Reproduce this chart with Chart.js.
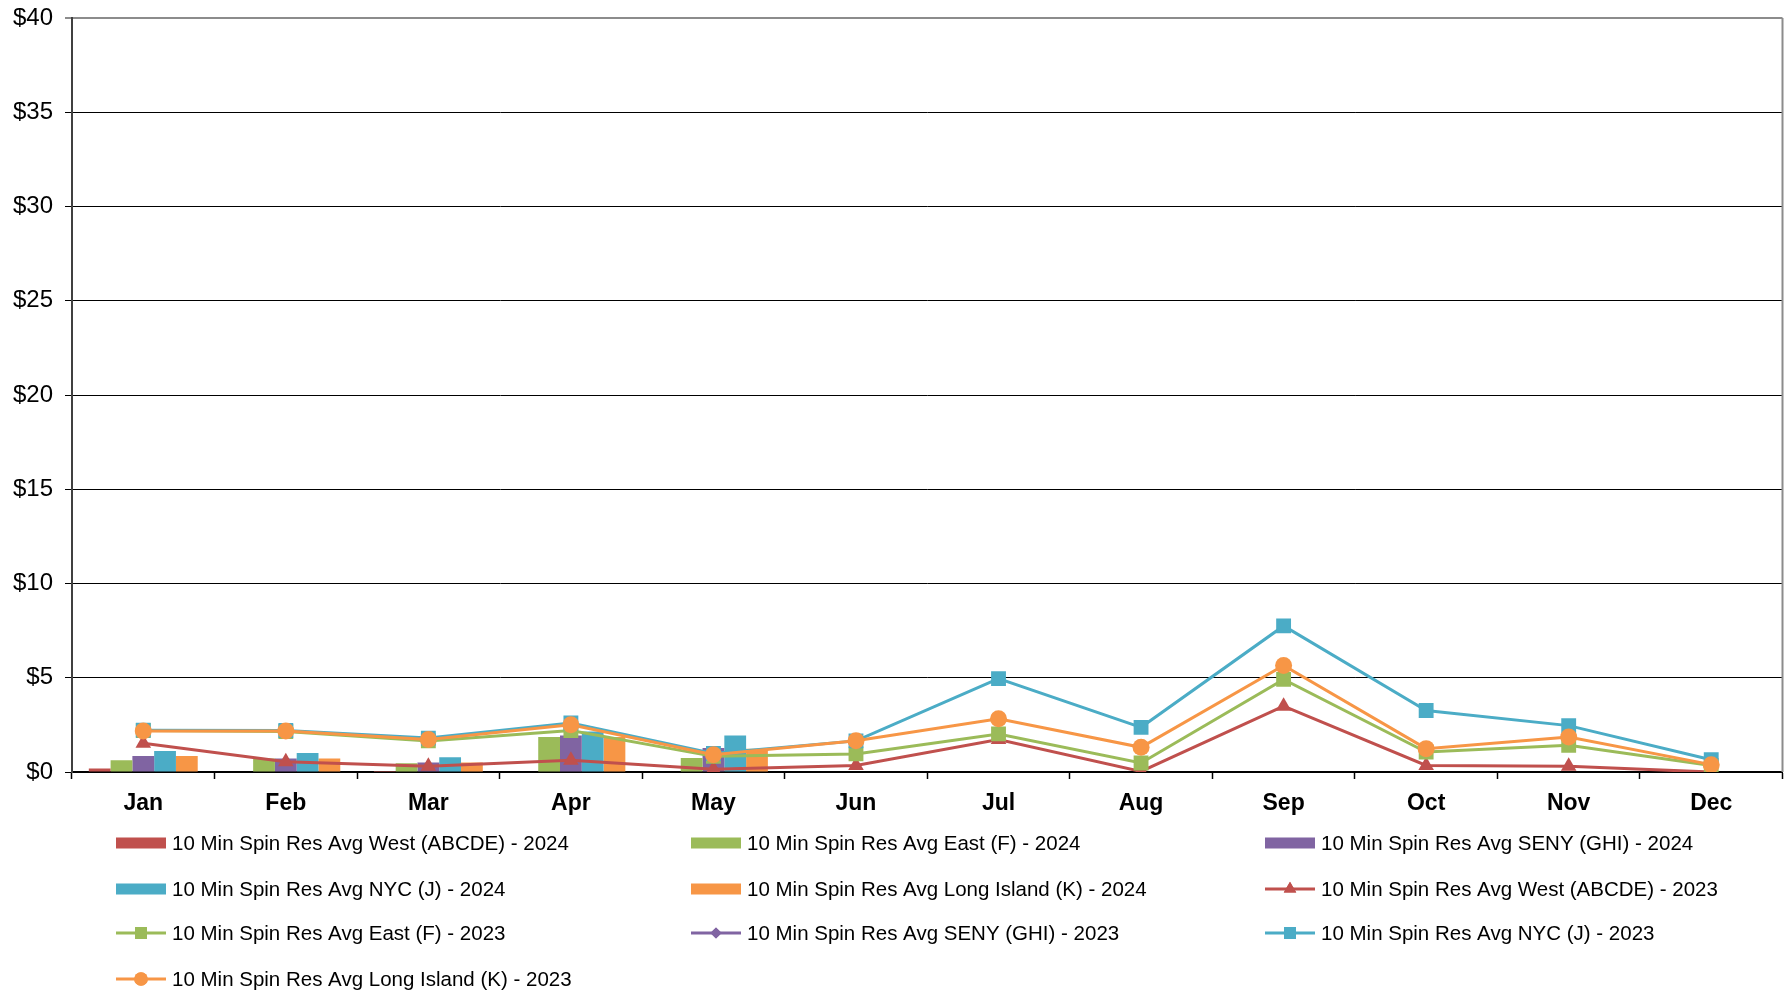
<!DOCTYPE html>
<html lang="en">
<head>
    <meta charset="UTF-8">
    <title>10 Min Spin Res Avg</title>
    <script src="https://cdn.jsdelivr.net/npm/chart.js@4.4.1/dist/chart.umd.min.js"></script>
    <style>
        html, body { margin: 0; background: #fff; overflow: hidden; }
        #wrap { position: relative; width: 1793px; height: 992px; }
    </style>
</head>
<body>
<div id="wrap"><canvas id="myChart"></canvas></div>

<script>
    // months on the x axis
    var mesi = ['Jan', 'Feb', 'Mar', 'Apr', 'May', 'Jun', 'Jul', 'Aug', 'Sep', 'Oct', 'Nov', 'Dec'];

    // 2024 bars (only Jan - May)
    var west2024 = [0.18, 0.02, 0.05, 0.02, 0.02, null, null, null, null, null, null, null];
    var east2024 = [0.62, 0.71, 0.46, 1.86, 0.74, null, null, null, null, null, null, null];
    var seny2024 = [0.85, 0.71, 0.51, 1.94, 1.27, null, null, null, null, null, null, null];
    var nyc2024 = [1.11, 1.01, 0.78, 2.15, 1.93, null, null, null, null, null, null, null];
    var li2024 = [0.85, 0.71, 0.51, 1.86, 1.24, null, null, null, null, null, null, null];

    // 2023 lines
    var west2023 = [1.52, 0.55, 0.30, 0.62, 0.15, 0.35, 1.72, 0.03, 3.49, 0.35, 0.30, 0.00];
    var east2023 = [2.20, 2.15, 1.65, 2.20, 0.83, 0.96, 2.02, 0.48, 4.91, 1.06, 1.42, 0.35];
    var seny2023 = [null, null, null, null, null, null, null, null, null, null, null, null];
    var nyc2023 = [2.22, 2.20, 1.80, 2.60, 0.98, 1.65, 4.95, 2.37, 7.75, 3.26, 2.46, 0.65];
    var li2023 = [2.17, 2.17, 1.73, 2.51, 0.92, 1.66, 2.82, 1.31, 5.65, 1.24, 1.86, 0.39];

    var yTicks = [0, 5, 10, 15, 20, 25, 30, 35, 40];

    var rosso = '#C0504D', verde = '#9BBB59', viola = '#8064A2', azzurro = '#4BACC6', arancio = '#F79646';
    var font = '"Liberation Sans", Arial, sans-serif';
    var raggi = { rect: 10.5, triangle: 9, circle: 8.5, rectRot: 7 };

    function barra(label, data, colore) {
        return {
            type: 'bar', label: label, data: data, backgroundColor: colore,
            borderWidth: 0, order: 20, barPercentage: 1.0, categoryPercentage: 0.764
        };
    }

    function linea(label, data, colore, stile, ordine) {
        return {
            type: 'line', label: label, data: data, borderColor: colore, backgroundColor: colore,
            borderWidth: 3, tension: 0, pointStyle: stile, pointRadius: raggi[stile],
            pointBorderWidth: 0, pointBackgroundColor: colore, order: ordine, spanGaps: true
        };
    }

    // legend in a 3 column grid, drawn under the axis
    var gridLegend = {
        id: 'gridLegend',
        beforeDatasetsDraw: function (chart) {
            var a = chart.chartArea, ctx = chart.ctx;
            ctx.save();
            ctx.strokeStyle = '#8c8c8c';
            ctx.lineWidth = 2;
            ctx.beginPath();
            ctx.moveTo(a.right, a.top);
            ctx.lineTo(a.right, a.bottom);
            ctx.stroke();
            ctx.restore();
        },
        afterDraw: function (chart) {
            var ctx = chart.ctx;
            var cols = [116, 691, 1265];
            var base = chart.chartArea.bottom;
            var rows = [base + 71, base + 117, base + 161, base + 207];
            ctx.save();
            chart.data.datasets.forEach(function (ds, i) {
                var x = cols[i % 3], y = rows[Math.floor(i / 3)];
                if (ds.type === 'bar') {
                    ctx.fillStyle = ds.backgroundColor;
                    ctx.fillRect(x, y - 5.5, 50, 11);
                } else {
                    ctx.strokeStyle = ds.borderColor;
                    ctx.lineWidth = 3;
                    ctx.beginPath();
                    ctx.moveTo(x, y);
                    ctx.lineTo(x + 50, y);
                    ctx.stroke();
                    ctx.fillStyle = ds.borderColor;
                    Chart.helpers.drawPoint(ctx, {
                        pointStyle: ds.pointStyle, radius: ds.pointRadius * 0.8, borderWidth: 0
                    }, x + 25, y);
                    ctx.fill();
                }
                ctx.fillStyle = '#000';
                ctx.font = '20.5px ' + font;
                ctx.textBaseline = 'middle';
                ctx.fillText(ds.label, x + 56, y + 1);
            });
            ctx.restore();
        }
    };

    var ctx = document.getElementById('myChart').getContext('2d');
    var chart = new Chart(ctx, {
        type: 'bar',
        data: {
            labels: mesi,
            datasets: [
                barra('10 Min Spin Res Avg West (ABCDE) - 2024', west2024, rosso),
                barra('10 Min Spin Res Avg East (F) - 2024', east2024, verde),
                barra('10 Min Spin Res Avg SENY (GHI) - 2024', seny2024, viola),
                barra('10 Min Spin Res Avg NYC (J) - 2024', nyc2024, azzurro),
                barra('10 Min Spin Res Avg Long Island (K) - 2024', li2024, arancio),
                linea('10 Min Spin Res Avg West (ABCDE) - 2023', west2023, rosso, 'triangle', 4),
                linea('10 Min Spin Res Avg East (F) - 2023', east2023, verde, 'rect', 3),
                linea('10 Min Spin Res Avg SENY (GHI) - 2023', seny2023, viola, 'rectRot', 5),
                linea('10 Min Spin Res Avg NYC (J) - 2023', nyc2023, azzurro, 'rect', 2),
                linea('10 Min Spin Res Avg Long Island (K) - 2023', li2023, arancio, 'circle', 1)
            ]
        },
        options: {
            responsive: true,
            maintainAspectRatio: false,
            animation: false,
            layout: { padding: { top: 18, right: 7, bottom: 175, left: 0 } },
            plugins: {
                legend: { display: false },
                tooltip: { enabled: false }
            },
            scales: {
                x: {
                    offset: true,
                    grid: { offset: true, drawOnChartArea: false, tickLength: 7, tickColor: '#000', tickWidth: 1.5 },
                    border: { color: '#000', width: 2 },
                    ticks: { color: '#000', padding: 0, font: { family: font, size: 23, weight: 'bold', lineHeight: 2.15 } },
                    afterFit: function (s) { s.height = 45; s.paddingLeft = 0; s.paddingRight = 0; }
                },
                y: {
                    min: 0,
                    max: 40,
                    afterBuildTicks: function (s) { s.ticks = yTicks.map(function (v) { return { value: v }; }); },
                    grid: {
                        color: function (c) { return c.tick && c.tick.value === 40 ? '#8c8c8c' : '#000'; },
                        lineWidth: function (c) { return c.tick && c.tick.value === 40 ? 2 : 1; },
                        tickLength: 7
                    },
                    border: { color: '#404040', width: 2 },
                    ticks: {
                        color: '#000', padding: 12, font: { family: font, size: 24 },
                        callback: function (v) { return '$' + v; }
                    },
                    afterFit: function (s) { s.width = 72; s.paddingTop = 0; s.paddingBottom = 0; }
                }
            }
        },
        plugins: [gridLegend]
    });
</script>
</body>
</html>
